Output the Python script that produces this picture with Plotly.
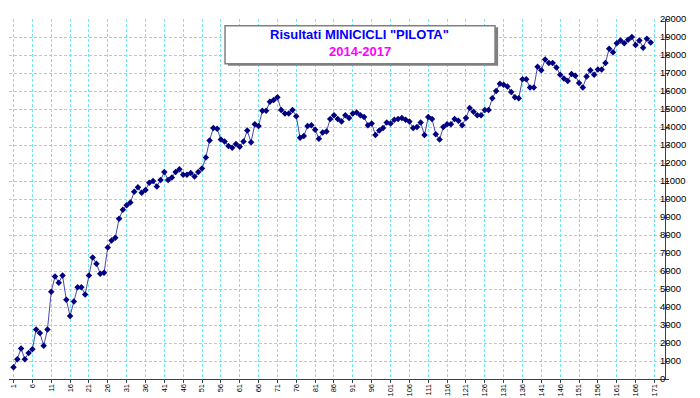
import plotly.graph_objects as go

# ---- data ----
periods = list(range(1, 171))
values = [
    650, 1100, 1700, 1100, 1450, 1650, 2750, 2550, 1850, 2750,
    4850, 5700, 5350, 5750, 4400, 3500, 4300, 5100, 5100, 4700,
    5750, 6750, 6400, 5850, 5900, 7300, 7700, 7850, 8900, 9400,
    9650, 9800, 10400, 10650, 10350, 10500, 10900, 11000, 10700, 11050,
    11500, 11050, 11200, 11500, 11650, 11350, 11350, 11450, 11250, 11500,
    11700, 12300, 13250, 13950, 13900, 13300, 13200, 12950, 12850, 13050,
    12900, 13200, 13800, 13150, 14150, 14050, 14900, 14900, 15400, 15500,
    15650, 14950, 14750, 14750, 14950, 14600, 13400, 13500, 14050, 14100,
    13850, 13350, 13700, 13750, 14450, 14650, 14450, 14300, 14650, 14500,
    14750, 14800, 14650, 14550, 14100, 14200, 13550, 13800, 13950, 14250,
    14200, 14400, 14450, 14500, 14400, 14300, 13950, 14000, 14250, 13550,
    14550, 14450, 13600, 13300, 14000, 14150, 14150, 14450, 14350, 14100,
    14500, 15050, 14850, 14650, 14650, 14950, 14950, 15600, 16000, 16400,
    16350, 16250, 15950, 15650, 15600, 16650, 16650, 16200, 16200, 17350,
    17150, 17750, 17550, 17550, 17300, 16900, 16700, 16550, 16950, 16850,
    16450, 16200, 16800, 17150, 16900, 17200, 17200, 17550, 18350, 18150,
    18650, 18800, 18650, 18850, 19000, 18550, 18800, 18400, 18900, 18700,
]
x_ticks = list(range(1, 172, 5))
x_tick_labels = [str(v) for v in x_ticks]
y_ticks = list(range(0, 20001, 1000))
y_tick_labels = [str(v) for v in y_ticks]
title_line1 = 'Risultati MINICICLI "PILOTA"'
title_line2 = "2014-2017"

FONT = "Liberation Sans, Arial, sans-serif"
GRID = "#6FE6F2"

fig = go.Figure()
fig.add_trace(go.Scatter(
    x=periods, y=values, mode="lines+markers",
    line=dict(color="#4848B0", width=1),
    marker=dict(symbol="diamond", size=5, color="#000080",
                line=dict(width=0)),
    showlegend=False, hoverinfo="x+y",
))

fig.update_layout(
    width=700, height=398,
    margin=dict(l=1, r=43, t=11, b=27),
    paper_bgcolor="white", plot_bgcolor="white",
    font=dict(family=FONT, color="#000000"),
    xaxis=dict(
        range=[-0.2, 173.8], tickmode="array",
        tickvals=x_ticks, ticktext=x_tick_labels, tickangle=-90,
        tickfont=dict(size=7.5, family=FONT, color="#000000"),
        ticklabelstandoff=-2,
        showgrid=True, gridcolor=GRID, griddash="3px,2px", gridwidth=1,
        showline=True, linecolor="#404040", linewidth=1,
        ticks="outside", ticklen=3, tickcolor="#404040",
        zeroline=False, fixedrange=True, automargin=False,
    ),
    yaxis=dict(
        range=[0, 20000], side="right", tickmode="array",
        tickvals=y_ticks, ticktext=y_tick_labels,
        tickfont=dict(size=9.5, family=FONT, color="#000000"),
        ticklabelstandoff=-11,
        showgrid=True, gridcolor=GRID, griddash="3px,2px", gridwidth=1,
        showline=True, linecolor="#404040", linewidth=1,
        ticks="outside", ticklen=3, tickcolor="#404040",
        zeroline=False, fixedrange=True, automargin=False,
    ),
    shapes=[
        dict(type="rect", xref="paper", yref="paper",
             x0=0.3338, x1=0.7456, y0=0.870, y1=0.977,
             fillcolor="#808080", line=dict(width=0), layer="above"),
        dict(type="rect", xref="paper", yref="paper",
             x0=0.3293, x1=0.7409, y0=0.876, y1=0.981,
             fillcolor="white", line=dict(color="#808080", width=1.5),
             layer="above"),
    ],
    annotations=[
        dict(text="<b>" + title_line1 + "</b>", xref="paper", yref="paper",
             x=0.535, y=0.957, showarrow=False, xanchor="center", yanchor="middle",
             font=dict(size=13, color="#0000FF", family=FONT)),
        dict(text="<b>" + title_line2 + "</b>", xref="paper", yref="paper",
             x=0.535, y=0.911, showarrow=False, xanchor="center", yanchor="middle",
             font=dict(size=13, color="#FF00FF", family=FONT)),
    ],
)

fig.write_html("out.html")
